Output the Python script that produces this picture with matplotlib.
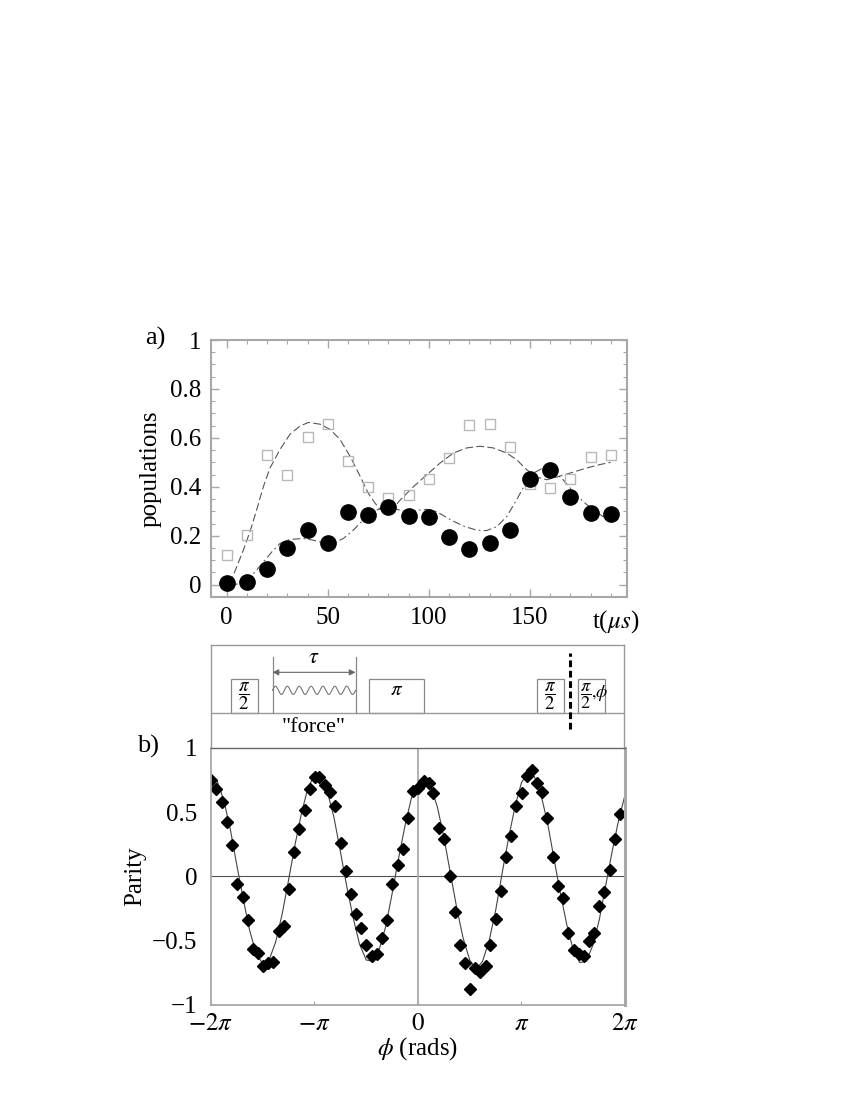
import numpy as np
import matplotlib
matplotlib.use('Agg')
import matplotlib.pyplot as plt
from matplotlib.patches import Rectangle
from matplotlib.ticker import MultipleLocator

plt.rcParams['font.family'] = 'serif'
plt.rcParams['font.serif'] = ['Liberation Serif', 'DejaVu Serif']
plt.rcParams['mathtext.fontset'] = 'stix'

# ---- panel a: populations vs time ----
t_pts = [0, 10, 20, 30, 40, 50, 60, 70, 80, 90, 100, 110, 120, 130, 140, 150, 160, 170, 180, 190]
circle_pop = [0.006, 0.011, 0.066, 0.151, 0.222, 0.171, 0.297, 0.283, 0.317, 0.280, 0.278, 0.196,
              0.144, 0.171, 0.223, 0.434, 0.467, 0.358, 0.295, 0.291]
square_pop = [0.121, 0.202, 0.531, 0.450, 0.604, 0.656, 0.506, 0.399, 0.354, 0.366, 0.434, 0.516,
              0.651, 0.656, 0.564, 0.413, 0.395, 0.434, 0.523, 0.530]

# fitted curves
dash_t = [1.6, 4.9, 8.2, 11.5, 14.8, 18.1, 21.4, 26.4, 31.3, 36.3, 40.4, 46.2, 51.1, 56, 61, 66,
          70, 73.4, 75.8, 78.3, 81.6, 85.7, 92.3, 98.9, 105.5, 112.1, 118.7, 125.3, 131.9, 138.5,
          143.4, 148.4, 153.3, 158.3, 163.2, 169.8, 178.0, 184.6, 189.9]
dash_y = [0.004, 0.073, 0.141, 0.217, 0.306, 0.40, 0.477, 0.553, 0.615, 0.649, 0.663, 0.656, 0.635,
          0.594, 0.525, 0.443, 0.374, 0.333, 0.309, 0.299, 0.306, 0.345, 0.40, 0.449, 0.497, 0.538,
          0.559, 0.566, 0.559, 0.538, 0.511, 0.470, 0.440, 0.429, 0.440, 0.456, 0.477, 0.491, 0.500]
dashdot_t = [1.6, 5.8, 9.9, 14, 18.1, 22.3, 26.4, 31.3, 37.9, 42.9, 47.8, 52.7, 57.7, 62.6, 67.6,
             72.5, 77.5, 82.4, 87.4, 92.3, 98.9, 103.8, 110.4, 117.0, 123.6, 128.5, 133.5, 138.5,
             143.4, 147.5, 151.6, 156.6, 161.5, 166.4, 171.4, 176.3, 181.3, 186.2, 188.7]
dashdot_y = [-0.003, 0.004, 0.018, 0.052, 0.093, 0.134, 0.169, 0.185, 0.189, 0.182, 0.171, 0.169,
             0.189, 0.223, 0.265, 0.299, 0.317, 0.313, 0.300, 0.303, 0.308, 0.299, 0.267, 0.240,
             0.223, 0.221, 0.237, 0.278, 0.347, 0.408, 0.456, 0.477, 0.463, 0.429, 0.381, 0.340,
             0.306, 0.278, 0.264]

a_yticks = [0, 0.2, 0.4, 0.6, 0.8, 1.0]
a_yticklabels = ['0', '0.2', '0.4', '0.6', '0.8', '1']
a_xticks = [0, 50, 100, 150]
a_xticklabels = ['0', '50', '100', '150']

# ---- panel b: parity vs phase ----
phi_pts = [-6.275, -6.12, -5.96, -5.80, -5.64, -5.48, -5.32, -5.16, -5.01, -4.86, -4.71, -4.55,
           -4.40, -4.23, -4.08, -3.93, -3.76, -3.60, -3.44, -3.29, -3.14, -2.99, -2.82, -2.66,
           -2.51, -2.35, -2.20, -2.03, -1.88, -1.72, -1.57, -1.41, -1.245, -1.09, -0.93, -0.78,
           -0.62, -0.47, -0.30, -0.15, -0.01, 0.17, 0.32, 0.47, 0.65, 0.80, 0.96, 1.11, 1.26,
           1.415, 1.59, 1.74, 1.89, 2.05, 2.20, 2.37, 2.52, 2.68, 2.83, 2.98, 3.15, 3.31, 3.47,
           3.61, 3.77, 3.93, 4.09, 4.24, 4.40, 4.56, 4.72, 4.88, 5.03, 5.19, 5.34, 5.50, 5.66,
           5.82, 5.98, 6.13]
parity_pts = [0.75, 0.684, 0.579, 0.426, 0.242, -0.058, -0.163, -0.342, -0.566, -0.592, -0.697,
              -0.671, -0.663, -0.421, -0.389, -0.097, 0.189, 0.368, 0.518, 0.684, 0.771, 0.776,
              0.711, 0.658, 0.545, 0.263, 0.039, -0.137, -0.295, -0.403, -0.532, -0.618, -0.60,
              -0.479, -0.342, -0.058, 0.092, 0.216, 0.453, 0.663, 0.689, 0.742, 0.724, 0.653,
              0.374, 0.295, 0.005, -0.276, -0.532, -0.671, -0.876, -0.71, -0.742, -0.697, -0.532,
              -0.329, -0.111, 0.153, 0.316, 0.545, 0.65, 0.784, 0.829, 0.724, 0.658, 0.455,
              0.153, -0.071, -0.171, -0.442, -0.571, -0.60, -0.618, -0.505, -0.442, -0.232,
              -0.124, 0.053, 0.295, 0.487]

fit_phi = [-6.28, -6.09, -5.89, -5.69, -5.50, -5.30, -5.11, -4.91, -4.71, -4.52, -4.32, -4.12,
           -3.93, -3.73, -3.53, -3.34, -3.14, -2.95, -2.75, -2.55, -2.36, -2.16, -1.96, -1.77,
           -1.57, -1.37, -1.18, -0.98, -0.79, -0.59, -0.39, -0.20, 0.00, 0.20, 0.39, 0.59, 0.79,
           0.98, 1.18, 1.37, 1.57, 1.77, 1.96, 2.16, 2.36, 2.55, 2.75, 2.95, 3.14, 3.34, 3.53,
           3.73, 3.93, 4.12, 4.32, 4.52, 4.71, 4.91, 5.11, 5.30, 5.50, 5.69, 5.89, 6.09, 6.28]
fit_parity = [0.77, 0.74, 0.59, 0.36, 0.09, -0.18, -0.42, -0.60, -0.68, -0.65, -0.51, -0.29,
              -0.03, 0.25, 0.50, 0.69, 0.79, 0.78, 0.66, 0.46, 0.20, -0.08, -0.33, -0.53, -0.65,
              -0.66, -0.57, -0.39, -0.14, 0.14, 0.40, 0.61, 0.73, 0.76, 0.70, 0.54, 0.30, 0.03,
              -0.25, -0.48, -0.65, -0.72, -0.66, -0.50, -0.26, 0.02, 0.30, 0.55, 0.73, 0.81, 0.78,
              0.64, 0.42, 0.15, -0.13, -0.38, -0.57, -0.67, -0.66, -0.54, -0.34, -0.08, 0.19,
              0.44, 0.63]

b_xticks = [-2 * np.pi, -np.pi, 0, np.pi, 2 * np.pi]
b_xticklabels = [r'$-2\pi$', r'$-\pi$', r'$0$', r'$\pi$', r'$2\pi$']
b_yticks = [-1, -0.5, 0, 0.5, 1]
b_yticklabels = ['\u22121', '\u22120.5', '0', '0.5', '1']

FS = 18
frame_col = '#a8a8a8'

fig = plt.figure(figsize=(8.5, 11), dpi=100)

#########
# a)    #
#########
ax1 = fig.add_axes([0.2482, 0.4573, 0.4894, 0.2336])
ax1.plot(dash_t, dash_y, color='#555555', lw=0.8, ls=(0, (7, 3)))
ax1.plot(dashdot_t, dashdot_y, color='#555555', lw=0.8, ls=(0, (7, 3, 1.5, 3)))
ax1.plot(t_pts, square_pop, ls='none', marker='s', ms=7, mfc='none', mec='#b8b8b8', mew=1.0)
ax1.plot(t_pts, circle_pop, ls='none', marker='o', ms=11, color='black')
ax1.set_xlim(-7.8, 198)
ax1.set_ylim(-0.05, 1.0)
ax1.set_xticks(a_xticks)
ax1.set_xticklabels(a_xticklabels)
ax1.set_yticks(a_yticks)
ax1.set_yticklabels(a_yticklabels)
ax1.xaxis.set_minor_locator(MultipleLocator(10))
ax1.yaxis.set_minor_locator(MultipleLocator(0.05))
ax1.tick_params(which='both', direction='in', top=True, right=True, color=frame_col,
                labelsize=FS)
ax1.tick_params(which='major', length=6, width=1, pad=7)
ax1.tick_params(which='minor', length=3, width=0.8)
for s in ax1.spines.values():
    s.set_color(frame_col)
    s.set_linewidth(1.5)
ax1.set_ylabel('populations', fontsize=FS, labelpad=6)
ax1.text(0.915, -0.045, r't($\mu s$)', transform=ax1.transAxes, fontsize=FS,
         ha='left', va='top')
fig.text(145 / 850, 1 - 338 / 1100, 'a)', fontsize=FS + 1, ha='left', va='center')

#########
# pulse sequence diagram #
#########
axd = fig.add_axes([0.2482, 0.32, 0.4859, 0.0936])
axd.set_xlim(0, 1)
axd.set_ylim(0, 1)
axd.set_xticks([])
axd.set_yticks([])
for s in axd.spines.values():
    s.set_color('#999999')
    s.set_linewidth(1.0)
axd.spines['bottom'].set_visible(False)

base = 0.343
box_top = 0.67
axd.plot([0, 1], [base, base], color='#999999', lw=1.0)
box_col = '#888888'
# pi/2 pulse
axd.add_patch(Rectangle((0.0477, base), 0.0668, box_top - base, fill=False, ec=box_col, lw=0.9))
axd.text(0.081, (base + box_top) / 2, r'$\dfrac{\pi}{2}$', fontsize=13.5, ha='center', va='center')
# force pulse
xf0, xf1 = 0.149, 0.350
axd.plot([xf0, xf0], [base, 0.886], color=box_col, lw=0.9)
axd.plot([xf1, xf1], [base, 0.886], color=box_col, lw=0.9)
wx = np.linspace(xf0, xf1, 300)
axd.plot(wx, 0.56 + 0.04 * np.sin(2 * np.pi * 7 * (wx - xf0) / (xf1 - xf0)), color='#777777', lw=0.8)
axd.annotate('', xy=(xf1, 0.735), xytext=(xf0, 0.735),
             arrowprops=dict(arrowstyle='<|-|>', color='#666666', lw=0.8, mutation_scale=9,
                             shrinkA=0, shrinkB=0))
axd.text((xf0 + xf1) / 2, 0.87, r'$\tau$', fontsize=16, ha='center', va='center')
axd.text((xf0 + xf1) / 2, 0.2, '"force"', fontsize=16, ha='center', va='center')
# pi pulse
axd.add_patch(Rectangle((0.3825, base), 0.1332, box_top - base, fill=False, ec=box_col, lw=0.9))
axd.text(0.449, 0.56, r'$\pi$', fontsize=15, ha='center', va='center')
# second pi/2
axd.add_patch(Rectangle((0.7886, base), 0.0669, box_top - base, fill=False, ec=box_col, lw=0.9))
axd.text(0.822, (base + box_top) / 2, r'$\dfrac{\pi}{2}$', fontsize=13.5, ha='center', va='center')
# dashed marker
axd.plot([0.869, 0.869], [0.181, 0.919], color='black', lw=2.2, ls=(0, (2.2, 1.2)))
# analysis pi/2, phi
axd.add_patch(Rectangle((0.888, base), 0.066, box_top - base, fill=False, ec=box_col, lw=0.9))
axd.text(0.893, (base + box_top) / 2, r'$\dfrac{\pi}{2}{,}\phi$', fontsize=13, ha='left', va='center')

#########
# b)    #
#########
ax2 = fig.add_axes([0.2482, 0.0864, 0.4871, 0.2336])
ax2.axhline(0, color='#555555', lw=0.8)
ax2.axvline(0, color='#aaaaaa', lw=1.3)
ax2.plot(fit_phi, fit_parity, color='#444444', lw=0.8)
ax2.plot(phi_pts, parity_pts, ls='none', marker='D', ms=6.5, color='black')
ax2.set_xlim(-2 * np.pi, 2 * np.pi)
ax2.set_ylim(-1, 1)
ax2.set_xticks(b_xticks)
ax2.set_xticklabels(b_xticklabels)
ax2.set_yticks(b_yticks)
ax2.set_yticklabels(b_yticklabels)
ax2.tick_params(axis='x', direction='in', length=3, color=frame_col, labelsize=FS, pad=6)
ax2.tick_params(axis='y', length=0, labelsize=FS, pad=10)
for s in ['left', 'bottom']:
    ax2.spines[s].set_color(frame_col)
    ax2.spines[s].set_linewidth(1.3)
ax2.spines['right'].set_color(frame_col)
ax2.spines['right'].set_linewidth(2.2)
ax2.spines['top'].set_color('#666666')
ax2.spines['top'].set_linewidth(1.0)
ax2.set_ylabel('Parity', fontsize=FS, labelpad=4)
ax2.set_xlabel(r'$\phi$ (rads)', fontsize=FS, labelpad=0)
fig.text(137 / 850, 1 - 746 / 1100, 'b)', fontsize=FS + 1, ha='left', va='center')

fig.savefig('out.png', dpi=100, facecolor='white')
